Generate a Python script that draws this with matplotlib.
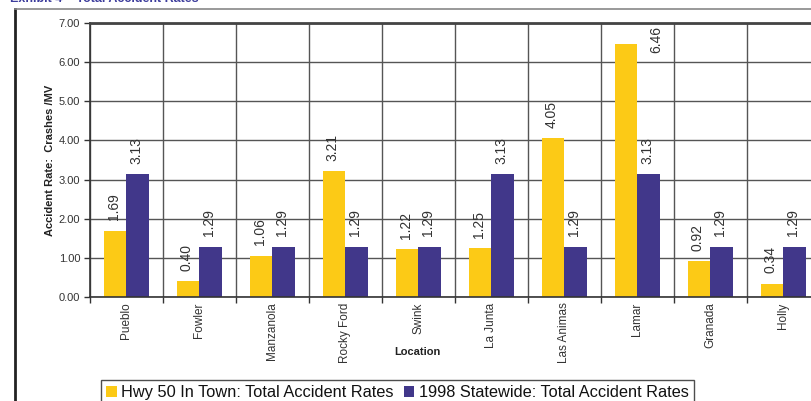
import numpy as np
import matplotlib
matplotlib.use("Agg")
import matplotlib.pyplot as plt
from matplotlib.lines import Line2D

plt.rcParams['font.family'] = ['Liberation Sans', 'DejaVu Sans']

locations = ["Pueblo", "Fowler", "Manzanola", "Rocky Ford", "Swink",
             "La Junta", "Las Animas", "Lamar", "Granada", "Holly"]
in_town = [1.69, 0.40, 1.06, 3.21, 1.22, 1.25, 4.05, 6.46, 0.92, 0.34]
statewide = [3.13, 1.29, 1.29, 1.29, 1.29, 3.13, 1.29, 3.13, 1.29, 1.29]
y_ticks = [0, 1, 2, 3, 4, 5, 6, 7]

series_names = ["Hwy 50 In Town: Total Accident Rates",
                "1998 Statewide: Total Accident Rates"]
colors = ["#FCCA16", "#41378A"]

W, H = 812, 401
fig = plt.figure(figsize=(W / 100, H / 100), dpi=100)

# axes run past the right edge of the picture, as in the reference
ax = fig.add_axes([90 / W, 1 - 297 / H, (820 - 90) / W, (297 - 23) / H])

x = np.arange(len(locations))
bw = 0.31
ymax = 7.0

ax.set_axisbelow(True)
bars1 = ax.bar(x - bw / 2, in_town, bw, color=colors[0], label=series_names[0])
bars2 = ax.bar(x + bw / 2, statewide, bw, color=colors[1], label=series_names[1])


def label_bars(bars, values):
    for b, v in zip(bars, values):
        cx = b.get_x() + b.get_width() / 2
        txt = f"{v:.2f}"
        if v > ymax - 0.8:
            # no room above: put label beside the bar top
            ax.text(cx + 0.41, ymax - 0.08, txt, rotation=90, ha='center',
                    va='top', fontsize=10, color='#333333')
        else:
            ax.annotate(txt, (cx, v), xytext=(-1, 7.5), textcoords='offset points',
                        rotation=90, ha='center', va='bottom', fontsize=10,
                        color='#333333')


label_bars(bars1, in_town)
label_bars(bars2, statewide)

ax.set_xlim(-0.5, len(locations) - 0.5)
ax.set_ylim(0, ymax)
ax.set_yticks(y_ticks)
ax.set_yticklabels([f"{t:.2f}" for t in y_ticks], fontsize=8, color='#333333')
ax.set_xticks(x)
ax.set_xticklabels(locations, rotation=90, fontsize=8.5, color='#333333',
                   va='top', ha='center')
ax.set_xticks(np.arange(len(locations) + 1) - 0.5, minor=True)
ax.tick_params(axis='x', which='major', length=0, pad=4)
ax.tick_params(axis='x', which='minor', length=4, width=1, color='#333333')
ax.tick_params(axis='y', length=4, width=1, color='#333333', pad=3)

ax.grid(axis='y', color='#555555', linewidth=1)
ax.grid(axis='x', which='minor', color='#555555', linewidth=1)

for s in ['left', 'bottom']:
    ax.spines[s].set_color('#333333')
    ax.spines[s].set_linewidth(1.2)
ax.spines['top'].set_color('#444444')
ax.spines['top'].set_linewidth(2)
ax.spines['right'].set_visible(False)

ax.set_ylabel("Accident Rate:  Crashes /MV", fontsize=8, fontweight='bold',
              color='#222222', labelpad=3)
fig.text(417 / W, 1 - 352 / H, "Location", fontsize=8, fontweight='bold',
         color='#222222', ha='center', va='center')

# title, mostly cut off at the top edge
fig.text(10 / W, 1 - 2 / H, "Exhibit 4 – Total Accident Rates", fontsize=9,
         fontweight='bold', color='#3C3C9C', ha='left', va='baseline')

# outer chart frame
fig.add_artist(Line2D([15 / W, 15 / W], [0, 1 - 9 / H], color='#222222',
                      linewidth=2, transform=fig.transFigure))
fig.add_artist(Line2D([15 / W, 1], [1 - 9 / H, 1 - 9 / H], color='#888888',
                      linewidth=1.2, transform=fig.transFigure))

leg = fig.legend(handles=[bars1, bars2], labels=series_names, ncol=2,
                 loc='upper left', bbox_to_anchor=(101 / W, 1 - 380 / H),
                 fontsize=11.8, frameon=True, fancybox=False, shadow=False,
                 edgecolor='#222222', handlelength=0.65, handleheight=0.65,
                 handletextpad=0.3, columnspacing=0.6, borderpad=0.3,
                 borderaxespad=0)
leg.get_frame().set_linewidth(1)
for t in leg.get_texts():
    t.set_color('#111111')

fig.savefig("out.png", dpi=100)
